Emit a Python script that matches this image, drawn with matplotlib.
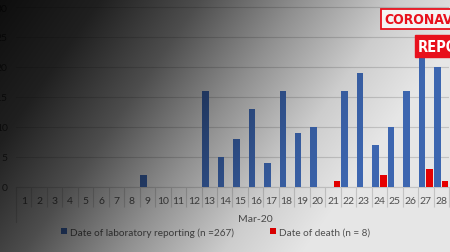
import matplotlib.pyplot as plt
from matplotlib import font_manager
import numpy as np

# data (March 2020, day of month)
days = list(range(1, 29))
lab_reporting = [0, 0, 0, 0, 0, 0, 0, 0, 2, 0, 0, 0, 16, 5, 8, 13, 4, 16, 9, 10,
                 0, 16, 19, 7, 10, 16, 23, 20]
deaths = [0, 0, 0, 0, 0, 0, 0, 0, 0, 0, 0, 0, 0, 0, 0, 0, 0, 0, 0, 0,
          1, 0, 0, 2, 0, 0, 3, 1]
yticks = [0, 5, 10, 15, 20, 25, 30]
group_label = 'Mar-20'
legend_labels = ['Date of laboratory reporting (n =267)', 'Date of death (n = 8)']

W, H = 450, 253
plt.rcParams['font.family'] = ['Lato', 'DejaVu Sans']

# a narrow bold face for the logo, if one is installed
logo_font = {'family': ['DejaVu Sans'], 'stretch': 'normal', 'size': 8.5}
for f in font_manager.fontManager.ttflist:
    if ('Narrow' in f.name or 'Condensed' in f.name or
            f.stretch in ('condensed', 'semi-condensed', 'extra-condensed')):
        logo_font = {'family': [f.name, 'DejaVu Sans'], 'stretch': f.stretch,
                     'size': 10}
        break

fig = plt.figure(figsize=(W / 100, H / 100), dpi=100)
fig.patch.set_facecolor('white')

# plot area: x 0.5..28.5 spans px 16..449, y=0 at px 187.5
ax = fig.add_axes([16 / W, 1 - 187.5 / H, 433 / W, 187.5 / H])
ax.set_facecolor('white')

x = np.array(days)
w = 0.42
b1 = ax.bar(x - 0.25, lab_reporting, w, color='#4472c4', zorder=3)
b2 = ax.bar(x + 0.25, deaths, w, color='#ff0000', zorder=3)

ax.set_xlim(0.5, 28.5)
ax.set_ylim(0, 31.35)
ax.set_yticks(yticks)
ax.set_xticks(x)
ax.set_xticklabels([str(d) for d in days])
ax.set_xticks(np.arange(0.5, 29, 1), minor=True)

ax.grid(axis='y', color='#d9d9d9', lw=0.8, zorder=0)
for s in ['top', 'right', 'left']:
    ax.spines[s].set_visible(False)
ax.spines['bottom'].set_color('#d9d9d9')
ax.spines['bottom'].set_linewidth(0.8)

ax.tick_params(axis='y', length=0, pad=6, labelsize=7.5, labelcolor='#595959')
ax.tick_params(axis='x', which='major', length=0, pad=7, labelsize=7.5,
               labelcolor='#595959')
ax.tick_params(axis='x', which='minor', length=14.5, width=0.8, color='#d9d9d9',
               direction='out')

# group divider at the left edge, and the month label
ax.plot([0.5, 0.5], [0, -6], color='#d9d9d9', lw=0.8, clip_on=False)
ax.text(16, -5.3, group_label, ha='center', va='center', fontsize=7.5,
        color='#595959')

fig.legend([b1, b2], legend_labels, loc='center', ncol=2,
           bbox_to_anchor=(215.5 / W, 1 - 233 / H), frameon=False,
           fontsize=7.2, labelcolor='#595959', handlelength=0.6,
           handleheight=0.6, handletextpad=0.3, columnspacing=3.6)

# dark diagonal shading laid over the whole picture
yy, xx = np.mgrid[0:H, 0:W]
s = xx + 0.7 * yy
bright = np.interp(s, [0, 100, 200, 300, 400, 480, 640],
                   [0.05, 0.12, 0.3, 0.56, 0.8, 0.9, 0.9])
shade = np.zeros((H, W, 4))
shade[..., 3] = 1 - bright

ov = fig.add_axes([0, 0, 1, 1], zorder=10)
ov.imshow(shade, extent=[0, W, H, 0], aspect='auto', interpolation='bilinear')
ov.set_xlim(0, W)
ov.set_ylim(H, 0)
ov.axis('off')

# logo in the top right corner
ov.text(384, 20, 'CORONAVIRUS', fontsize=logo_font['size'], fontweight='bold',
        color='#e8101c', family=logo_font['family'],
        fontstretch=logo_font['stretch'], va='center', ha='left',
        bbox=dict(boxstyle='square,pad=0.2', fc='#f4f4f4', ec='#e8101c', lw=1.3),
        zorder=5)
ov.text(418, 47, 'REPORT', fontsize=logo_font['size'] + 0.5, fontweight='bold',
        color='white', family=logo_font['family'],
        fontstretch=logo_font['stretch'], va='center', ha='left',
        bbox=dict(boxstyle='square,pad=0.22', fc='#e8101c', ec='#e8101c', lw=1),
        zorder=5)

fig.savefig('out.png', dpi=100)
